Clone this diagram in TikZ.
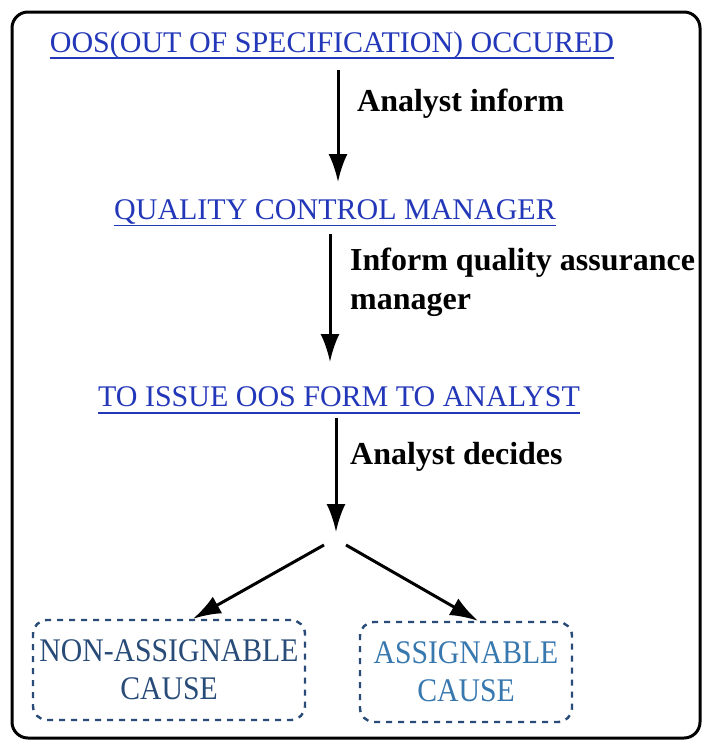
\documentclass[tikz,border=0pt]{standalone}
\usepackage{fontspec}
\setmainfont{Liberation Serif}
\usetikzlibrary{arrows.meta}
\definecolor{headblue}{RGB}{35,55,185}
\definecolor{boxblue}{RGB}{40,75,120}
\definecolor{boxblue2}{RGB}{55,120,175}
\tikzset{
  x=1pt,y=-1pt,
  heading/.style={text=headblue,inner sep=0pt,font=\fontsize{30}{34}\selectfont},
  uline/.style={draw=headblue,line width=1.8pt},
  lbl/.style={anchor=west,inner sep=0pt,align=left,font=\bfseries\fontsize{32}{39}\selectfont},
  flow/.style={line width=3pt,-{Latex[length=28pt,width=19pt]}},
  causebox/.style={draw=boxblue,dashed,dash pattern=on 6pt off 6pt,line width=2.4pt,rounded corners=14pt,inner sep=0pt,align=center,font=\fontsize{33}{38}\selectfont},
}
\begin{document}
\begin{tikzpicture}
\useasboundingbox (0,0) rectangle (707,744);
\draw[line width=3pt,rounded corners=16pt] (12,12) rectangle (700,738);
\node[heading] (h1) at (332,45) {OOS(OUT OF SPECIFICATION) OCCURED};
\node[heading] (h2) at (335,212) {QUALITY CONTROL MANAGER};
\node[heading] (h3) at (339,397) {TO ISSUE OOS FORM TO ANALYST};
\draw[uline] ([yshift=-6pt]h1.base west) -- ([yshift=-6pt]h1.base east);
\draw[uline] ([yshift=-6pt]h2.base west) -- ([yshift=-6pt]h2.base east);
\draw[uline] ([yshift=-6pt]h3.base west) -- ([yshift=-6pt]h3.base east);
\coordinate (s1) at (338,70);
\coordinate (e1) at (338,182);
\draw[flow] (s1) -- (e1);
\node[lbl] (l1) at (357,104) {Analyst inform};
\coordinate (s2) at (330,234);
\coordinate (e2) at (330,362);
\draw[flow] (s2) -- (e2);
\node[lbl] (l2) at (350,282) {Inform quality assurance\\manager};
\coordinate (s3) at (336,418);
\coordinate (e3) at (336,532);
\draw[flow] (s3) -- (e3);
\node[lbl] (l3) at (350,457) {Analyst decides};
\node[causebox,text=boxblue,minimum width=272pt,minimum height=100pt] (c1) at (169,670)
  {\scalebox{0.9}[1]{NON-ASSIGNABLE}\\\scalebox{0.9}[1]{CAUSE}};
\node[causebox,text=boxblue2,minimum width=212pt,minimum height=100pt] (c2) at (466,672)
  {\scalebox{0.9}[1]{ASSIGNABLE}\\\scalebox{0.9}[1]{CAUSE}};
\coordinate (b1) at (324,545);
\coordinate (b2) at (346,545);
\draw[flow] (b1) -- ([xshift=24pt]c1.north);
\draw[flow] (b2) -- ([xshift=12pt]c2.north);
\end{tikzpicture}
\end{document}
